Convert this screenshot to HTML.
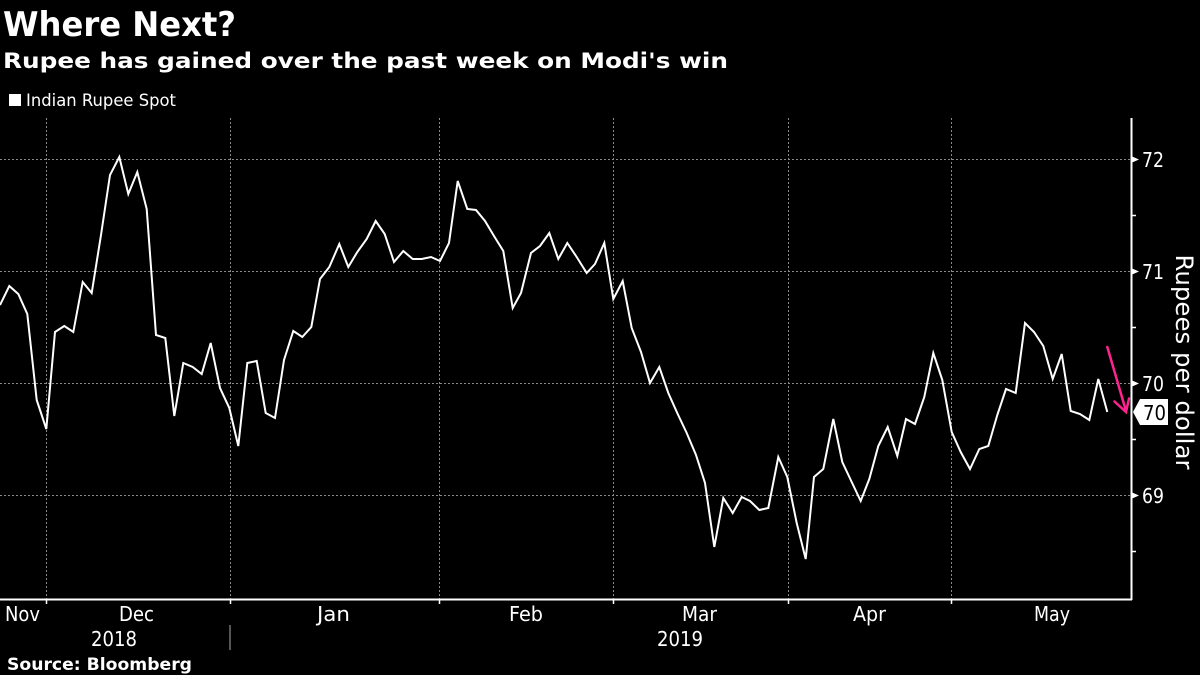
<!DOCTYPE html>
<html><head><meta charset="utf-8"><style>
html,body{margin:0;padding:0;background:#000;}
svg{display:block;}
text{font-family:"DejaVu Sans","Liberation Sans",sans-serif;fill:#fff;}
</style></head><body>
<svg width="1200" height="675" viewBox="0 0 1200 675" xmlns="http://www.w3.org/2000/svg">
<rect width="1200" height="675" fill="#000"/>
<text x="3" y="36" font-size="34" font-weight="bold" textLength="233" lengthAdjust="spacingAndGlyphs">Where Next?</text>
<text x="3" y="68" font-size="21" font-weight="bold" textLength="725" lengthAdjust="spacingAndGlyphs">Rupee has gained over the past week on Modi's win</text>
<rect x="9" y="94" width="12" height="12" fill="#fff"/>
<text x="26" y="106" font-size="16.5" textLength="150" lengthAdjust="spacingAndGlyphs">Indian Rupee Spot</text>

<g stroke="#8a8a8a" stroke-width="1" stroke-dasharray="2,2" fill="none">
<line x1="0" y1="159.5" x2="1131" y2="159.5"/>
<line x1="0" y1="271.5" x2="1131" y2="271.5"/>
<line x1="0" y1="383.5" x2="1131" y2="383.5"/>
<line x1="0" y1="495.5" x2="1131" y2="495.5"/>
<line x1="46.5" y1="118" x2="46.5" y2="599"/>
<line x1="230.5" y1="118" x2="230.5" y2="599"/>
<line x1="439.5" y1="118" x2="439.5" y2="599"/>
<line x1="613.5" y1="118" x2="613.5" y2="599"/>
<line x1="788.5" y1="118" x2="788.5" y2="599"/>
<line x1="951.5" y1="118" x2="951.5" y2="599"/>
</g>

<g stroke="#fff" stroke-width="2" fill="none">
<line x1="0" y1="599.5" x2="1132" y2="599.5"/>
<line x1="1131.5" y1="118" x2="1131.5" y2="600"/>
</g>
<g stroke="#fff" stroke-width="1.5">
<line x1="46.5" y1="599" x2="46.5" y2="604"/>
<line x1="230.5" y1="599" x2="230.5" y2="604"/>
<line x1="439.5" y1="599" x2="439.5" y2="604"/>
<line x1="613.5" y1="599" x2="613.5" y2="604"/>
<line x1="788.5" y1="599" x2="788.5" y2="604"/>
<line x1="951.5" y1="599" x2="951.5" y2="604"/>
<line x1="1131" y1="215.5" x2="1136" y2="215.5"/>
<line x1="1131" y1="327.5" x2="1136" y2="327.5"/>
<line x1="1131" y1="439.5" x2="1136" y2="439.5"/>
<line x1="1131" y1="551.5" x2="1136" y2="551.5"/>
</g>
<line x1="230" y1="625" x2="230" y2="650" stroke="#aaa" stroke-width="1"/>
<g fill="#fff">
<polygon points="1131,156 1139,159.5 1131,163"/>
<polygon points="1131,268 1139,271.5 1131,275"/>
<polygon points="1131,380 1139,383.5 1131,387"/>
<polygon points="1131,492 1139,495.5 1131,499"/>
</g>
<text x="1142" y="167" font-size="20" textLength="22" lengthAdjust="spacingAndGlyphs">72</text>
<text x="1142" y="279" font-size="20" textLength="22" lengthAdjust="spacingAndGlyphs">71</text>
<text x="1142" y="391" font-size="20" textLength="22" lengthAdjust="spacingAndGlyphs">70</text>
<text x="1142" y="503" font-size="20" textLength="22" lengthAdjust="spacingAndGlyphs">69</text>

<polyline fill="none" stroke="#fff" stroke-width="2" stroke-linejoin="miter" points="0,305 9.3,286 18.3,294 27.3,314 36.7,400 46.3,429 55,332 64.3,326 73.3,332 82.7,282 91.7,293 101,235 110,175 119.3,157 128.3,194 137.3,172 146.7,209 156,335 165.3,338 174.3,416 183.3,363 192.7,367 201.7,374 210.7,343 220,388 229.3,408 238.3,446 247.3,363 256.7,361 265.7,413 275,418 284,360 293.3,331 302.3,337 311.3,327 320,279 329.3,267 339.3,244 348.3,267 357.3,252 366.7,239 375.7,221 384.7,234 394,262 403.3,251 412.7,259 421.7,259 431,257 440,261 449,243 457.7,181 467.3,209 476,210 485,221 494,236 503.3,251 512.7,308 521,293 531,253 540,246 549.3,233 558.3,259 567.3,243 576.7,257 586.7,273 595,264 604.3,243 613.3,299 622.7,281 631.7,328 641,352 650,383 659.3,367 668.3,393 677.7,414 686.7,433 696,455 705,483 714.3,547 723.3,498 732.7,513 741.7,497 750,501 759.3,510 768.3,508 778.3,457 787.3,477 796.7,523 805.7,559 814,477 823.3,469 833.3,419 842.3,462 851.7,482 860.7,501 869.3,479 878.3,446 887.7,427 897.3,456 906,419 915,424 924.3,397 933.3,353 942.3,380 951.7,432 960.7,452 970,469 979.3,449 988.3,446 997.3,415 1006,389 1015.7,393 1025,323 1034,332 1043.3,346 1052.7,379 1061.7,354 1070.7,411 1080,414 1089.3,420 1098.3,379 1107.3,412"/>

<g stroke="#ff2390" stroke-width="2.5" fill="none" stroke-linecap="round">
<line x1="1107.3" y1="347" x2="1126" y2="411"/>
<polyline points="1114.5,401.5 1126,412 1129,398.5"/>
</g>

<polygon points="1133,412 1140,399 1168,399 1168,425 1140,425" fill="#fff"/>
<text x="1143" y="420" font-size="20" textLength="23" lengthAdjust="spacingAndGlyphs" style="fill:#000">70</text>

<text transform="translate(1176,362) rotate(90)" text-anchor="middle" font-size="24" textLength="215" lengthAdjust="spacingAndGlyphs">Rupees per dollar</text>

<text x="5" y="621" font-size="20" textLength="35" lengthAdjust="spacingAndGlyphs">Nov</text>
<text x="119" y="621" font-size="20" textLength="35" lengthAdjust="spacingAndGlyphs">Dec</text>
<text x="317" y="621" font-size="20" textLength="33" lengthAdjust="spacingAndGlyphs">Jan</text>
<text x="509" y="621" font-size="20" textLength="34" lengthAdjust="spacingAndGlyphs">Feb</text>
<text x="682" y="621" font-size="20" textLength="35" lengthAdjust="spacingAndGlyphs">Mar</text>
<text x="853" y="621" font-size="20" textLength="33" lengthAdjust="spacingAndGlyphs">Apr</text>
<text x="1034" y="621" font-size="20" textLength="36" lengthAdjust="spacingAndGlyphs">May</text>
<text x="91" y="646" font-size="20" textLength="46" lengthAdjust="spacingAndGlyphs">2018</text>
<text x="657" y="646" font-size="20" textLength="46" lengthAdjust="spacingAndGlyphs">2019</text>
<text x="7" y="670" font-size="17" font-weight="bold" textLength="185" lengthAdjust="spacingAndGlyphs">Source: Bloomberg</text>
</svg>
</body></html>
